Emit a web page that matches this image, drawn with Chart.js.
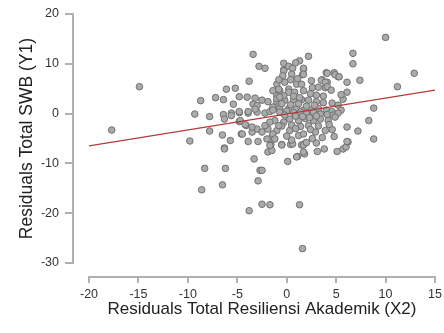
<!DOCTYPE html>
<html>
<head>
<meta charset="utf-8">
<script src="https://cdn.jsdelivr.net/npm/chart.js@4/dist/chart.umd.min.js"></script>
<style>
  html, body { margin: 0; padding: 0; background: #fff; }
</style>
</head>
<body>
<canvas id="scatter-chart" width="444" height="333"></canvas>
<script>
// residual points (x = resiliensi, y = SWB)
const resX = [
  -17.7, -14.9, 10.0, 12.9, 11.2, 6.7, 6.7, 7.4, -3.4, -2.8, -2.2, -3.8, 2.2, 1.3, 0.9, -0.3, -0.3, 0.2, 1.7, 1.6,
  4.0, 4.8, 5.2, 3.6, 4.1, 3.9, 6.1, 6.1, 5.7, 8.8, 8.3, 7.2, 6.1, 8.8, 2.5,
  -9.3, -8.7, -7.8, -7.2, -6.4, -6.1, -5.2, -4.8, -5.4, -6.4, -6.3, -7.8, -9.8, -6.5, -5.7, -6.3, -6.3,
  -3.3, -8.3, -6.2, -2.7, -2.5, -8.6, -6.5, -2.9, -2.5, -1.7, -3.8, 1.3, 1.6,
  -1.9, -1.5, -1.6, -0.5, 0.1, 1.1, 1.8, 1.5, 1.9, 3.0, 3.1, 3.8, 5.1, 5.7, 6.0, 6.2, 0.4, 0.6,
  -4.0, -3.2, -2.5, -1.9, -3.4, -3.0, -5.6, -4.8, -3.9, -3.0, -2.2, -1.7, -1.0, -1.0, -1.0, -1.0,
  0.6, 1.7, -0.3, -0.4, 0.5, 1.7, 3.5, 4.1, 4.9, 5.3, 3.9, 4.1,
  -1.0, -0.2, 0.2, 1.0, 1.5, -1.4, -0.7, 0.2, 0.8, 1.7, 2.4, 3.0, 3.7,
  -1.0, -0.2, 0.7, 1.5, 2.2, 3.0, 3.7, 4.6, 5.2,
  -1.4, -0.7, 0.2, 1.0, 1.7, 2.5, 3.2, 4.0, 4.6, 5.5,
  -1.4, -0.7, 0.0, 0.7, 1.4, 2.0, 2.7, 3.4, 4.1, 4.7, 5.2,
  -1.2, -0.3, 0.3, 1.2, 1.9, 2.7, 3.4, 4.2, 4.9,
  -1.0, 0.3, 1.2, 1.7, 2.9, 3.9, 4.6, -1.5, -0.5, 0.5, 1.7, 2.0, 6.1, 1.0, 1.7,
  -0.5, 0.4, 1.2, 2.0, 2.8, -0.2, 0.9, 1.6, 2.3, 3.0, -0.5, 0.5, 1.4, 2.2, 3.2, 4.3, 2.4, 0.9,
  -0.3, 0.7, 1.3, 2.6, 3.2, 0.4, 1.1, -0.8, 4.5, 5.5, 4.8, 3.6, 2.6, 0.0,
  -5.6, -4.8, -3.9, -3.2, -4.8, -4.6, -3.9, -2.9, -4.1, -3.5, -3.0, -2.5, -1.9, -2.2, -1.7, -0.8,
  -1.4, -2.0, -1.2, -1.7, -4.7, -4.2, -3.5, -4.5, -0.8, -0.7
];
const resY = [
  -3.3, 5.4, 15.3, 8.1, 5.4, 12.1, 10.0, 6.7, 11.9, 9.5, 9.1, 6.5, 11.5, 10.6, 10.2, 10.1, 8.8, 9.5, 8.9, 7.8,
  8.2, 8.2, 7.4, 6.8, 6.3, 5.2, 6.3, 4.3, 2.9, 1.1, -1.4, -3.5, -2.7, -5.1, 6.6,
  -0.1, 2.6, -0.6, 3.2, 2.8, 4.9, 5.1, 3.4, 1.9, -0.2, -1.1, -3.5, -5.5, -4.3, -5.4, -6.9, -7.1,
  -9.1, -11.0, -11.0, -11.4, -11.4, -15.3, -14.3, -13.5, -18.2, -18.3, -19.5, -18.3, -27.1,
  -7.7, -7.4, -6.2, -6.2, -9.6, -8.6, -8.1, -6.3, -5.9, -5.9, -7.6, -7.1, -7.6, -7.1, -6.7, -5.7, -6.2, -6.1,
  3.3, 3.1, 2.7, 2.4, 1.9, 1.6, 0.1, 0.2, 0.1, 0.3, 0.1, 0.4, 4.6, 3.6, 2.3, 1.3,
  9.1, 9.1, 8.6, 7.6, 7.9, 7.9, 6.7, 8.1, 7.8, 7.4, 6.3, 5.4,
  5.9, 6.3, 4.9, 5.9, 5.9, 4.6, 4.6, 4.3, 4.3, 4.6, 4.0, 3.7, 3.5,
  3.0, 2.7, 2.8, 2.8, 2.7, 2.4, 2.2, 2.1, 1.7,
  1.3, 1.0, 1.0, 1.0, 0.7, 0.7, 1.0, 0.7, 0.4, 0.7,
  0.7, 0.3, 0.5, 0.2, 0.3, 0.0, 0.3, -0.1, -0.2, -0.3, 0.1,
  -1.4, -1.7, -1.1, -1.4, -1.0, -1.4, -1.1, -1.4, -0.7,
  -3.4, -3.4, -4.4, -4.1, -3.7, -3.4, -3.2, -4.7, -6.3, -5.3, -6.3, -5.8, -5.6, -8.7, -7.7,
  2.0, 1.8, 2.0, 1.5, 1.7, -0.3, -0.5, -0.6, -0.8, -0.5, -2.5, -2.3, -2.6, -2.4, -2.5, -2.2, -3.2, -3.0,
  3.6, 3.5, 3.2, 5.2, 5.3, 6.8, 7.0, 6.8, 4.7, 3.8, -4.6, -4.8, -5.0, -4.5,
  -0.4, 0.4, 0.4, 0.9, -1.6, -4.1, -5.6, -5.6, -2.4, -3.7, -3.1, -3.7, -3.1, -2.4, -1.7, -2.4,
  -4.1, -5.1, -5.1, -6.4, -1.4, -2.2, -2.7, -4.1, 4.9, 3.3
];
// fitted regression line ends
const fitX = [-20, 15];
const fitY = [-6.5, 4.7];
const xTicks = [-20, -15, -10, -5, 0, 5, 10, 15];
const yTicks = [-30, -20, -10, 0, 10, 20];

// R-style detached axes, drawn from the scales
const offsetAxes = {
  id: 'offsetAxes',
  afterDraw(chart) {
    const ctx = chart.ctx;
    const sx = chart.scales.x, sy = chart.scales.y;
    const ax = Math.round(chart.chartArea.left) - 17;
    const ay = Math.round(chart.chartArea.bottom) + 13;
    const yTop = Math.round(sy.getPixelForValue(yTicks[yTicks.length - 1]));
    const yBot = Math.round(sy.getPixelForValue(yTicks[0]));
    const xLeft = Math.round(sx.getPixelForValue(xTicks[0]));
    const xRight = Math.round(sx.getPixelForValue(xTicks[xTicks.length - 1]));
    ctx.save();
    ctx.fillStyle = '#b0b0b0';
    ctx.fillRect(ax, yTop - 1, 2, yBot - yTop + 2);
    ctx.fillRect(xLeft - 1, ay, xRight - xLeft + 2, 2);
    yTicks.forEach(v => {
      const p = Math.round(sy.getPixelForValue(v));
      ctx.fillRect(ax - 7, p - 1, 7, 2);
    });
    xTicks.forEach(v => {
      const p = Math.round(sx.getPixelForValue(v));
      ctx.fillRect(p - 1, ay, 2, 7);
    });
    ctx.restore();
  }
};

Chart.defaults.font.family = '"Liberation Sans", Arial, sans-serif';

var scatterChart = new Chart(document.getElementById('scatter-chart'), {
  type: 'scatter',
  data: {
    datasets: [{
      type: 'line',
      data: fitX.map((v, i) => ({x: v, y: fitY[i]})),
      borderColor: '#b23a3a',
      borderWidth: 1.2,
      pointRadius: 0,
      order: 0
    }, {
      data: resX.map((v, i) => ({x: v, y: resY[i]})),
      backgroundColor: '#ababab',
      borderColor: '#707070',
      borderWidth: 1,
      pointRadius: 3.3,
      order: 1
    }]
  },
  plugins: [offsetAxes],
  options: {
    responsive: false,
    animation: false,
    layout: { padding: { top: 14, right: 9, left: 0, bottom: 0 } },
    plugins: {
      legend: { display: false },
      tooltip: { enabled: false }
    },
    scales: {
      x: {
        type: 'linear',
        min: xTicks[0],
        max: xTicks[xTicks.length - 1],
        afterBuildTicks: s => { s.ticks = xTicks.map(v => ({value: v})); },
        afterFit: s => { s.height = 70; },
        grid: { display: true, drawOnChartArea: false, drawTicks: true, tickLength: 24, color: 'transparent' },
        border: { display: false },
        ticks: { padding: 0, color: '#333', font: { size: 12.5 } },
        title: {
          display: true,
          text: 'Residuals Total Resiliensi Akademik (X2)',
          color: '#222',
          font: { size: 17 },
          padding: { top: 0, bottom: 13 }
        }
      },
      y: {
        type: 'linear',
        min: yTicks[0],
        max: yTicks[yTicks.length - 1],
        afterBuildTicks: s => { s.ticks = yTicks.map(v => ({value: v})); },
        afterFit: s => { s.width = 89; },
        grid: { display: true, drawOnChartArea: false, drawTicks: true, tickLength: 30, color: 'transparent' },
        border: { display: false },
        ticks: { padding: 0, color: '#333', font: { size: 12.5 } },
        title: {
          display: true,
          text: 'Residuals Total SWB (Y1)',
          color: '#222',
          font: { size: 17.5 },
          padding: { top: 17, bottom: 0 }
        }
      }
    }
  }
});
</script>
</body>
</html>
